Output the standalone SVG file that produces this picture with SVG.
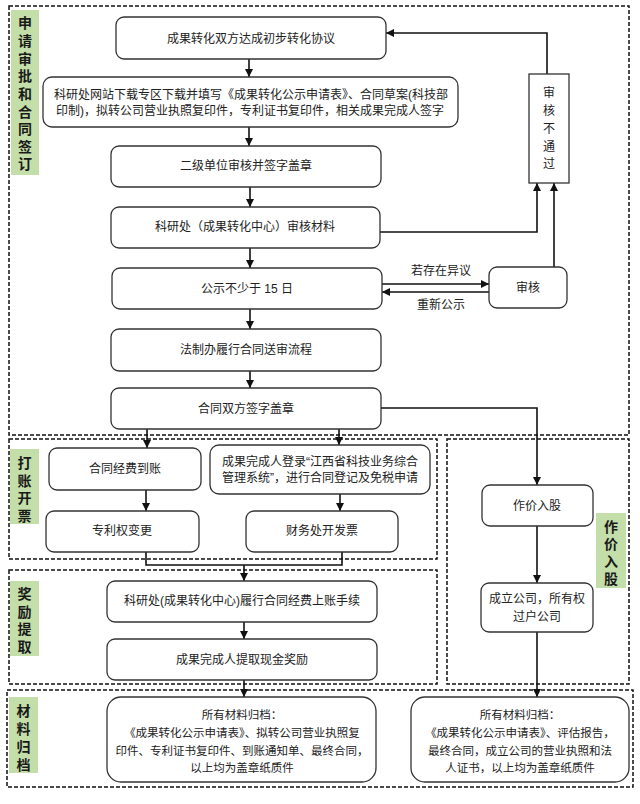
<svg xmlns="http://www.w3.org/2000/svg" width="640" height="804" viewBox="0 0 640 804">
<style>
text{font-family:"Liberation Sans","Noto Sans CJK SC",sans-serif;font-size:12px;fill:#222;text-anchor:middle;dominant-baseline:central}
.sec{fill:none;stroke:#111;stroke-width:1.5;stroke-dasharray:4 2}
.lab{fill:#c4dea9;stroke:none}
.lt{font-size:14px;font-weight:bold;fill:#1a1a1a}
.box{fill:#fff;stroke:#333;stroke-width:1.3}
.sm{font-size:11.5px}
.c{fill:none;stroke:#111;stroke-width:1.6}
</style>
<defs>
<marker id="ah" viewBox="0 0 10 10" refX="10" refY="5" markerWidth="8" markerHeight="8" markerUnits="userSpaceOnUse" orient="auto"><path d="M0,0 L10,5 L0,10 z" fill="#111"/></marker>
</defs>
<rect width="640" height="804" fill="#fff"/>

<g id="sections">
<rect class="sec" x="9" y="6" width="620" height="429"/>
<rect class="sec" x="9" y="439" width="428" height="120"/>
<rect class="sec" x="9" y="570" width="428" height="114"/>
<rect class="sec" x="447" y="439" width="182" height="245"/>
<rect class="sec" x="7" y="690" width="626" height="97"/>
</g>

<g id="label1"><rect class="lab" x="11" y="10" width="28" height="165"/>
<text class="lt" x="25"><tspan x="25" y="23">申</tspan><tspan x="25" y="41">请</tspan><tspan x="25" y="58.5">审</tspan><tspan x="25" y="76">批</tspan><tspan x="25" y="94">和</tspan><tspan x="25" y="111.5">合</tspan><tspan x="25" y="129">同</tspan><tspan x="25" y="146.5">签</tspan><tspan x="25" y="164">订</tspan></text></g>
<g id="label2"><rect class="lab" x="10" y="449" width="29" height="75"/>
<text class="lt"><tspan x="24.5" y="463">打</tspan><tspan x="24.5" y="481">账</tspan><tspan x="24.5" y="498">开</tspan><tspan x="24.5" y="516">票</tspan></text></g>
<g id="label3"><rect class="lab" x="10" y="581" width="29" height="75"/>
<text class="lt"><tspan x="24.5" y="594">奖</tspan><tspan x="24.5" y="612">励</tspan><tspan x="24.5" y="629">提</tspan><tspan x="24.5" y="647">取</tspan></text></g>
<g id="label4"><rect class="lab" x="596" y="513" width="30" height="75"/>
<text class="lt"><tspan x="611" y="527">作</tspan><tspan x="611" y="544">价</tspan><tspan x="611" y="562">入</tspan><tspan x="611" y="579">股</tspan></text></g>
<g id="label5"><rect class="lab" x="9" y="697" width="29" height="76"/>
<text class="lt"><tspan x="23.5" y="711">材</tspan><tspan x="23.5" y="729">料</tspan><tspan x="23.5" y="747">归</tspan><tspan x="23.5" y="765">档</tspan></text></g>

<g id="connectors">
<line class="c" x1="249" y1="59" x2="249" y2="77" marker-end="url(#ah)"/>
<line class="c" x1="249" y1="127" x2="249" y2="146" marker-end="url(#ah)"/>
<line class="c" x1="250" y1="187" x2="250" y2="207" marker-end="url(#ah)"/>
<line class="c" x1="250" y1="248" x2="250" y2="268" marker-end="url(#ah)"/>
<line class="c" x1="250" y1="309" x2="250" y2="329" marker-end="url(#ah)"/>
<line class="c" x1="250" y1="371" x2="250" y2="388" marker-end="url(#ah)"/>
<polyline class="c" points="547,74 547,33 386,33" marker-end="url(#ah)"/>
<polyline class="c" points="380,232 537,232 537,183" marker-end="url(#ah)"/>
<line class="c" x1="554" y1="267" x2="554" y2="183" marker-end="url(#ah)"/>
<line class="c" x1="382" y1="284" x2="489" y2="284" marker-end="url(#ah)"/>
<line class="c" x1="489" y1="292" x2="382" y2="292" marker-end="url(#ah)"/>
<polyline class="c" points="381,408 537,408 537,485" marker-end="url(#ah)"/>
<line class="c" x1="147" y1="429" x2="147" y2="448" marker-end="url(#ah)"/>
<line class="c" x1="339" y1="429" x2="339" y2="445" marker-end="url(#ah)"/>
<line class="c" x1="146" y1="490" x2="146" y2="511" marker-end="url(#ah)"/>
<line class="c" x1="340" y1="494" x2="340" y2="511" marker-end="url(#ah)"/>
<polyline class="c" points="146,552 146,565 342,565 342,552"/>
<line class="c" x1="244" y1="565" x2="244" y2="581" marker-end="url(#ah)"/>
<line class="c" x1="244" y1="622" x2="244" y2="639" marker-end="url(#ah)"/>
<line class="c" x1="244" y1="680" x2="244" y2="697" marker-end="url(#ah)"/>
<line class="c" x1="537" y1="526" x2="537" y2="583" marker-end="url(#ah)"/>
<line class="c" x1="537" y1="632" x2="537" y2="697" marker-end="url(#ah)"/>
<text x="441" y="271">若存在异议</text>
<text x="441" y="305">重新公示</text>
</g>

<g id="n1"><rect class="box" x="116" y="17" width="270" height="42" rx="8"/><text x="251" y="39">成果转化双方达成初步转化协议</text></g>
<g id="n2"><rect class="box" x="43" y="77" width="415" height="50" rx="9"/><text x="251" y="95">科研处网站下载专区下载并填写《成果转化公示申请表》、合同草案(科技部</text><text x="250" y="111">印制)，拟转公司营业执照复印件，专利证书复印件，相关成果完成人签字</text></g>
<g id="n3"><rect class="box" x="111" y="146" width="270" height="41" rx="8"/><text x="246" y="166">二级单位审核并签字盖章</text></g>
<g id="n4"><rect class="box" x="111" y="207" width="269" height="41" rx="8"/><text x="245" y="227">科研处（成果转化中心）审核材料</text></g>
<g id="n5"><rect class="box" x="112" y="268" width="270" height="41" rx="8"/><text x="247" y="289">公示不少于 15 日</text></g>
<g id="n6"><rect class="box" x="111" y="329" width="270" height="42" rx="8"/><text x="246" y="350">法制办履行合同送审流程</text></g>
<g id="n7"><rect class="box" x="111" y="388" width="270" height="41" rx="8"/><text x="246" y="409">合同双方签字盖章</text></g>
<g id="n8"><rect class="box" x="489" y="267" width="78" height="41" rx="8"/><text x="528" y="288">审核</text></g>
<g id="n9"><rect class="box" x="529" y="74" width="40" height="109"/><text><tspan x="549" y="93">审</tspan><tspan x="549" y="111">核</tspan><tspan x="549" y="129">不</tspan><tspan x="549" y="147">通</tspan><tspan x="549" y="164">过</tspan></text></g>
<g id="n10"><rect class="box" x="49" y="448" width="152" height="42" rx="8"/><text x="125" y="469">合同经费到账</text></g>
<g id="n11"><rect class="box" x="210" y="445" width="220" height="49" rx="9"/><text x="320" y="462">成果完成人登录“江西省科技业务综合</text><text x="320" y="478">管理系统”，进行合同登记及免税申请</text></g>
<g id="n12"><rect class="box" x="46" y="511" width="153" height="41" rx="8"/><text x="122" y="531">专利权变更</text></g>
<g id="n13"><rect class="box" x="246" y="511" width="152" height="41" rx="8"/><text x="322" y="531">财务处开发票</text></g>
<g id="n14"><rect class="box" x="107" y="581" width="270" height="41" rx="8"/><text x="242" y="601">科研处(成果转化中心)履行合同经费上账手续</text></g>
<g id="n15"><rect class="box" x="107" y="639" width="270" height="41" rx="8"/><text x="242" y="660">成果完成人提取现金奖励</text></g>
<g id="n16"><rect class="box" x="482" y="485" width="111" height="41" rx="8"/><text x="537" y="506">作价入股</text></g>
<g id="n17"><rect class="box" x="481" y="583" width="112" height="49" rx="8"/><text x="537" y="599">成立公司，所有权</text><text x="537" y="617">过户公司</text></g>
<g id="n18"><rect class="box" x="107" y="697" width="269" height="85" rx="14"/><text class="sm" x="242" y="715">所有材料归档：</text><text class="sm" x="242" y="733">《成果转化公示申请表》、拟转公司营业执照复</text><text class="sm" x="242" y="751">印件、专利证书复印件、到账通知单、最终合同，</text><text class="sm" x="242" y="768">以上均为盖章纸质件</text></g>
<g id="n19"><rect class="box" x="411" y="697" width="218" height="85" rx="14"/><text class="sm" x="520" y="715">所有材料归档：</text><text class="sm" x="520" y="733">《成果转化公示申请表》、评估报告，</text><text class="sm" x="520" y="751">最终合同，成立公司的营业执照和法</text><text class="sm" x="520" y="768">人证书，以上均为盖章纸质件</text></g>
</svg>
